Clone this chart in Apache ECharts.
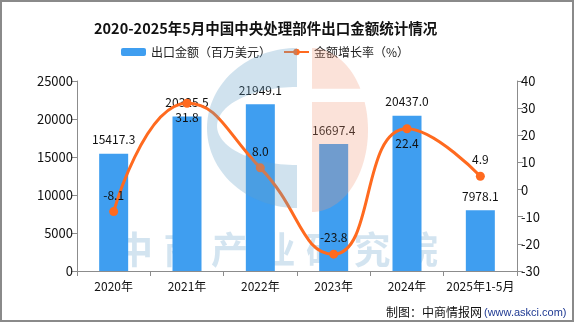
<!DOCTYPE html>
<html>
<head>
<meta charset="utf-8">
<script src="https://cdn.jsdelivr.net/npm/echarts@6/dist/echarts.min.js"></script>
<style>
  html, body { margin: 0; padding: 0; background: #fff; }
  #chart { width: 576px; height: 324px; }
</style>
</head>
<body>
<div id="chart"></div>
<script>
// 2020-2025年5月中国中央处理部件出口金额及增长率
const years = ['2020年', '2021年', '2022年', '2023年', '2024年', '2025年1-5月'];
const exportValue = [15417.3, 20325.5, 21949.1, 16697.4, 20437.0, 7978.1]; // 百万美元
const growthRate = [-8.1, 31.8, 8.0, -23.8, 22.4, 4.9];                   // %
const growthLabelBelow = [false, true, false, false, true, false];
const leftTicks = { min: 0, max: 25000, interval: 5000 };
const rightTicks = { min: -30, max: 40, interval: 10 };

const FONT = '"Noto Sans CJK SC", "Noto Sans", sans-serif';
const axisGray = '#8c8c8c';

const chart = echarts.init(document.getElementById('chart'), null, { renderer: 'canvas' });

// points along an elliptical arc, angles in degrees (screen coordinates, y down)
function arcPts(cx, cy, rx, ry, a0, a1, n) {
  const pts = [];
  for (let i = 0; i <= n; i++) {
    const a = (a0 + (a1 - a0) * i / n) * Math.PI / 180;
    pts.push([cx + rx * Math.cos(a), cy + ry * Math.sin(a)]);
  }
  return pts;
}

// logo watermark shapes
const logoBlue = arcPts(297, 128, 90, 80, 270, 90, 70)
  .concat(arcPts(297, 126, 80, 39, 90, 270, 60));
const logoPinkTop = arcPts(312, 130, 56, 82, 270, 329.7, 24).concat([[312, 88.7]]);
const logoPinkBottom = [[312, 102]].concat(arcPts(312, 130, 56, 82, 340, 450, 50));

// watermark glyphs, drawn beneath the bars
const markChars = '中商产业研究院'.split('');
const markGraphics = markChars.map((ch, i) => ({
  type: 'text',
  left: 116 + i * 47.5,
  top: 231,
  z: 0,
  silent: true,
  style: {
    text: ch,
    font: 'bold 37px ' + FONT,
    fill: 'rgba(110,165,205,0.3)'
  }
}));

const option = {
  backgroundColor: '#fff',
  animation: false,
  textStyle: { fontFamily: FONT },
  title: {
    text: '2020-2025年5月中国中央处理部件出口金额统计情况',
    left: 89,
    top: 16,
    textStyle: { fontSize: 14.5, fontWeight: 'bold', color: '#111', fontFamily: FONT }
  },
  legend: {
    left: 116,
    top: 41,
    itemWidth: 25,
    itemHeight: 8,
    itemGap: 12,
    textStyle: { fontSize: 12, color: '#222', fontFamily: FONT },
    data: ['出口金额（百万美元）', '金额增长率（%）']
  },
  grid: { left: 77, right: 59, top: 81, bottom: 53, containLabel: false },
  xAxis: {
    type: 'category',
    data: years,
    axisLine: { lineStyle: { color: axisGray, width: 1 } },
    axisTick: { show: true, length: 5, lineStyle: { color: axisGray } },
    axisLabel: { color: '#111', fontSize: 12, margin: 9, interval: 0 }
  },
  yAxis: [
    {
      type: 'value',
      min: leftTicks.min, max: leftTicks.max, interval: leftTicks.interval,
      splitLine: { show: false },
      axisLine: { show: true, lineStyle: { color: axisGray } },
      axisTick: { show: true, length: 6, lineStyle: { color: axisGray } },
      axisLabel: { color: '#111', fontSize: 13, margin: 4, formatter: v => String(v) }
    },
    {
      type: 'value',
      min: rightTicks.min, max: rightTicks.max, interval: rightTicks.interval,
      splitLine: { show: false },
      axisLine: { show: true, lineStyle: { color: axisGray } },
      axisTick: { show: true, length: 6, lineStyle: { color: axisGray } },
      axisLabel: { color: '#111', fontSize: 13, margin: 4, formatter: v => String(v) }
    }
  ],
  series: [
    {
      name: '出口金额（百万美元）',
      type: 'bar',
      yAxisIndex: 0,
      barWidth: 29,
      itemStyle: { color: '#3f9ef0' },
      label: {
        show: true,
        position: 'top',
        distance: 8,
        color: '#111',
        fontSize: 12,
        formatter: p => p.value.toFixed(1)
      },
      data: exportValue
    },
    {
      name: '金额增长率（%）',
      type: 'line',
      yAxisIndex: 1,
      smooth: true,
      symbol: 'circle',
      symbolSize: 9,
      lineStyle: { color: '#ff6a1f', width: 3 },
      itemStyle: { color: '#ff6a1f' },
      label: {
        show: true,
        position: 'top',
        distance: 6,
        color: '#111',
        fontSize: 12,
        formatter: p => Number(p.value).toFixed(1)
      },
      z: 3,
      data: growthRate.map((v, i) => growthLabelBelow[i]
        ? { value: v, label: { position: 'bottom', distance: 4 } }
        : v)
    }
  ],
  graphic: markGraphics.concat([
    {
      type: 'polygon', z: 100, silent: true,
      shape: { points: logoBlue },
      style: { fill: 'rgba(100,160,200,0.3)' }
    },
    {
      type: 'polygon', z: 100, silent: true,
      shape: { points: logoPinkTop },
      style: { fill: 'rgba(240,150,120,0.28)' }
    },
    {
      type: 'polygon', z: 100, silent: true,
      shape: { points: logoPinkBottom },
      style: { fill: 'rgba(240,150,120,0.28)' }
    },
    {
      type: 'text',
      left: 386,
      top: 306,
      style: { text: '制图：中商情报网', font: '12px ' + FONT, fill: '#111' }
    },
    {
      type: 'text',
      left: 484,
      top: 307,
      style: { text: '(www.askci.com)', font: '11px "Liberation Sans", Arial, sans-serif', fill: '#1f3a93' }
    },
    {
      type: 'rect',
      silent: true,
      z: 200,
      shape: { x: 1, y: 1, width: 572, height: 320 },
      style: { fill: 'none', stroke: '#8a8a8a', lineWidth: 2 }
    }
  ])
};

chart.setOption(option);
</script>
</body>
</html>
